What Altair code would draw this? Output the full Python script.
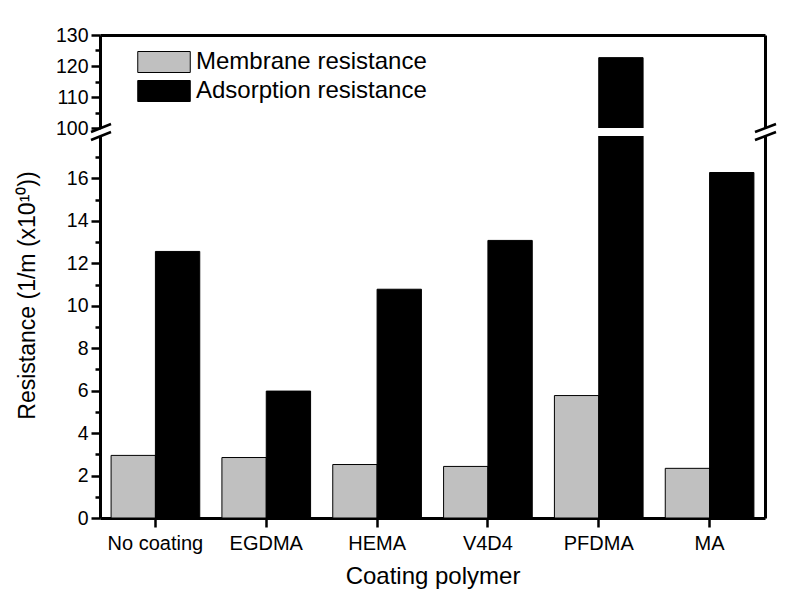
import altair as alt
import pandas as pd

categories = ["No coating", "EGDMA", "HEMA", "V4D4", "PFDMA", "MA"]
series = ["Membrane resistance", "Adsorption resistance"]
membrane = [2.95, 2.85, 2.52, 2.43, 5.77, 2.34]
adsorption = [12.56, 5.98, 10.78, 13.08, 122.7, 16.28]
lower_ticks = list(range(0, 18))
upper_ticks = list(range(100, 131, 5))

rows = []
for c, m, a in zip(categories, membrane, adsorption):
    rows.append({"polymer": c, "series": series[0], "value": m})
    rows.append({"polymer": c, "series": series[1], "value": a})
df = pd.DataFrame(rows)

W = 665
H_UP = 93
H_LO = 382
FONT = "Liberation Sans"

xscale = alt.Scale(paddingInner=0.2, paddingOuter=0.1)
color_scale = alt.Scale(domain=series, range=["#c0c0c0", "#000000"])

rect_path = "M-2.5,-1L2.5,-1L2.5,1L-2.5,1Z"

def yaxis(values, major_mod, title=None, **kw):
    return alt.Axis(
        values=values,
        labelExpr=f"datum.value % {major_mod} == 0 ? datum.label : ''",
        tickSize={"condition": {"test": f"datum.value % {major_mod} == 0", "value": 9}, "value": 5},
        grid=False,
        title=title,
        labelFontSize=19.5,
        labelPadding=3,
        **kw,
    )

# ---------- upper panel ----------
up_bars = alt.Chart(df).mark_bar(clip=True, stroke="black", strokeWidth=1).encode(
    x=alt.X("polymer:N", sort=categories, scale=xscale, axis=None),
    xOffset=alt.XOffset("series:N", sort=series, scale=alt.Scale(paddingInner=0)),
    y=alt.Y("value:Q", scale=alt.Scale(domain=[100, 130], nice=False, zero=False),
            axis=yaxis(upper_ticks, 10)),
    color=alt.Color("series:N", sort=series, scale=color_scale,
                    legend=alt.Legend(title=None, orient="none", legendX=52, legendY=15,
                                      symbolType=rect_path, symbolSize=441,
                                      symbolStrokeColor="black", symbolStrokeWidth=1,
                                      symbolOpacity=1, labelLimit=0,
                                      labelFontSize=24, labelOffset=20, rowPadding=3,
                                      labelFont=FONT, labelColor="black", padding=0)),
)
up_frame = alt.Chart(df).mark_bar(opacity=0, clip=True).encode(
    x=alt.X("polymer:N", sort=categories,
            axis=alt.Axis(orient="top", labels=False, ticks=False, title=None, domain=True)),
    y=alt.Y("value:Q", axis=alt.Axis(orient="right", labels=False, ticks=False, title=None,
                                     grid=False, domain=True)),
)
upper = alt.layer(up_bars, up_frame).resolve_axis(x="independent", y="independent").properties(
    width=W, height=H_UP)

# ---------- lower panel ----------
lo_bars = alt.Chart(df).mark_bar(clip=True, stroke="black", strokeWidth=1).encode(
    x=alt.X("polymer:N", sort=categories, scale=xscale,
            axis=alt.Axis(title="Coating polymer", labelAngle=0, tickSize=9, labelPadding=6,
                          labelFontSize=20, titleFontSize=24, titlePadding=11)),
    xOffset=alt.XOffset("series:N", sort=series, scale=alt.Scale(paddingInner=0)),
    y=alt.Y("value:Q", scale=alt.Scale(domain=[0, 18], nice=False),
            axis=yaxis(lower_ticks, 2, title="Resistance (1/m (x10¹⁰))",
                       titleFontSize=23, titleX=-66, titleY=159,
                       titleBaseline="alphabetic", titleAlign="center")),
    color=alt.Color("series:N", sort=series, scale=color_scale, legend=None),
)
lo_frame = alt.Chart(df).mark_bar(opacity=0, clip=True).encode(
    x=alt.X("polymer:N", sort=categories, axis=None),
    y=alt.Y("value:Q", axis=alt.Axis(orient="right", labels=False, ticks=False, title=None,
                                     grid=False, domain=True)),
)

one = pd.DataFrame({"k": [0]})

def slash(x0, x1, y0, y1):
    return alt.Chart(one).mark_rule(color="black", strokeWidth=2.5).encode(
        x=alt.value(x0), x2=alt.value(x1), y=alt.value(y0), y2=alt.value(y1))

breaks = [
    slash(-9, 11, -4, -12), slash(-9, 11, 4, -4),
    slash(W - 10, W + 11, -4, -12), slash(W - 10, W + 11, 4, -4),
]

lower = alt.layer(lo_bars, lo_frame, *breaks).resolve_axis(
    x="independent", y="independent").properties(width=W, height=H_LO)

chart = alt.vconcat(upper, lower, spacing=8, bounds="flush").resolve_scale(
    y="independent").resolve_legend(color="independent").properties(
    padding={"left": 8, "top": 17, "right": 5, "bottom": 5}
).configure_view(stroke=None).configure_axis(
    domainColor="black", domainWidth=3, tickColor="black", tickWidth=2.5,
    labelColor="black", titleColor="black", labelFont=FONT, titleFont=FONT,
    titleFontWeight="normal",
)

chart.save("out.html", embed_options={"renderer": "svg", "actions": False})
